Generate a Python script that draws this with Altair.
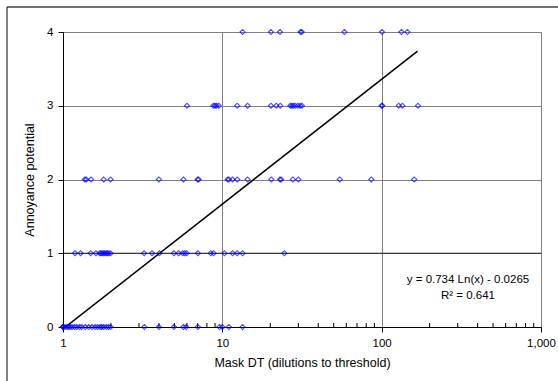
import altair as alt
import pandas as pd

# Mask DT values (dilutions to threshold) for each annoyance-potential level
dt_ap0 = [1.0, 1.0, 1.0, 1.03, 1.06, 1.085, 1.11, 1.14, 1.18, 1.22, 1.27, 1.31, 1.38,
          1.45, 1.52, 1.59, 1.65, 1.71, 1.75, 1.80, 1.87, 1.93, 1.99, 3.24, 4.0, 4.97,
          5.7, 5.94, 7.03, 9.6, 10.0, 11.0, 13.4]
dt_ap1 = [1.19, 1.29, 1.49, 1.61, 1.70, 1.73, 1.76, 1.80, 1.83, 1.87, 1.90, 1.94, 1.99,
          3.23, 3.62, 4.03, 4.97, 5.32, 5.63, 5.80, 5.97, 7.03, 8.47, 8.81, 10.3, 11.6,
          12.4, 13.4, 24.5]
dt_ap2 = [1.37, 1.40, 1.50, 1.80, 1.99, 4.0, 5.7, 7.0, 7.1, 10.8, 11.0, 11.6, 12.4, 14.4,
          20.3, 23.0, 23.4, 27.7, 30.0, 54.6, 86.1, 160]
dt_ap3 = [6.0, 8.8, 9.0, 9.2, 9.5, 12.4, 14.4, 20.2, 21.8, 23.1, 26.7, 27.3, 27.9, 28.7,
          29.8, 30.8, 31.6, 100, 101, 128, 135, 169]
dt_ap4 = [13.4, 20.2, 23.0, 31.0, 31.5, 58.4, 100.5, 133, 145]

trend_x = [1, 168]
trend_y = [-0.0265, 3.74]

x_ticks = [1, 10, 100, 1000]
y_ticks = [0, 1, 2, 3, 4]
minor_ticks = [2, 3, 4, 5, 6, 7, 8, 9, 20, 30, 40, 50, 60, 70, 80, 90,
               200, 300, 400, 500, 600, 700, 800, 900]

eq_lines = ["y = 0.734 Ln(x) - 0.0265", "R² = 0.641"]

rows = [(0, dt_ap0), (1, dt_ap1), (2, dt_ap2), (3, dt_ap3), (4, dt_ap4)]
df = pd.DataFrame([{"dt": v, "ap": k} for k, vals in rows for v in vals])
trend = pd.DataFrame({"dt": trend_x, "ap": trend_y})
minor = pd.DataFrame({"m": minor_ticks})
one = pd.DataFrame({"a": [0]})

W, H = 478, 295
FONT = "Liberation Sans"
xscale = alt.Scale(type="log", domain=[1, 1000])
yscale = alt.Scale(domain=[0, 4], nice=False, zero=False)

points = alt.Chart(df).mark_point(
    shape="diamond", filled=False, color="#0000FF", size=26, strokeWidth=1.1
).encode(
    x=alt.X("dt:Q", scale=xscale,
            axis=alt.Axis(values=x_ticks, format=",", title="Mask DT (dilutions to threshold)",
                          grid=True, gridColor="#808080", gridWidth=1,
                          tickSize=5, tickColor="black", domainColor="black",
                          labelFontSize=11.5, titleFontSize=12.5, labelPadding=5,
                          titlePadding=8, titleFontWeight="normal", labelColor="black",
                          titleColor="black", labelFlush=False)),
    y=alt.Y("ap:Q", scale=yscale,
            axis=alt.Axis(values=y_ticks, format="d", title="Annoyance potential",
                          grid=True, gridColor="#808080", gridWidth=1,
                          tickSize=5, tickColor="black", domainColor="black",
                          labelFontSize=11.5, titleFontSize=12.5, labelPadding=5,
                          titlePadding=10, titleFontWeight="normal", labelColor="black",
                          titleColor="black")),
)

line1 = alt.Chart(pd.DataFrame({"v": [1]})).mark_rule(color="#202020", strokeWidth=1).encode(
    y=alt.Y("v:Q", scale=yscale)
)

minor_marks = alt.Chart(minor).mark_rule(color="black", strokeWidth=1).encode(
    x=alt.X("m:Q", scale=xscale), y=alt.value(H), y2=alt.value(H - 4)
)

trendline = alt.Chart(trend).mark_line(color="black", strokeWidth=1.5, clip=True).encode(
    x=alt.X("dt:Q", scale=xscale), y=alt.Y("ap:Q", scale=yscale)
)

ann1 = alt.Chart(one).mark_text(fontSize=11.5, font=FONT, color="black", align="center").encode(
    x=alt.value(405), y=alt.value(248), text=alt.value(eq_lines[0])
)
ann2 = alt.Chart(one).mark_text(fontSize=11.5, font=FONT, color="black", align="center").encode(
    x=alt.value(405), y=alt.value(264), text=alt.value(eq_lines[1])
)

frame_top = alt.Chart(one).mark_rule(color="#404040", strokeWidth=1.3).encode(
    x=alt.value(-56), x2=alt.value(W + 20), y=alt.value(-25)
)
frame_left = alt.Chart(one).mark_rule(color="#404040", strokeWidth=1.3).encode(
    x=alt.value(-56), y=alt.value(-25), y2=alt.value(H + 60)
)

chart = alt.layer(
    frame_top, frame_left, line1, minor_marks, trendline, points, ann1, ann2
).properties(
    width=W, height=H,
    autosize=alt.AutoSizeParams(type="none"),
    padding={"left": 63, "top": 32, "right": 17, "bottom": 54},
    background="white",
).configure_view(
    stroke="black", strokeWidth=1.3
).configure(
    font=FONT
)

chart.save("out.html", embed_options={"renderer": "svg", "actions": False})
